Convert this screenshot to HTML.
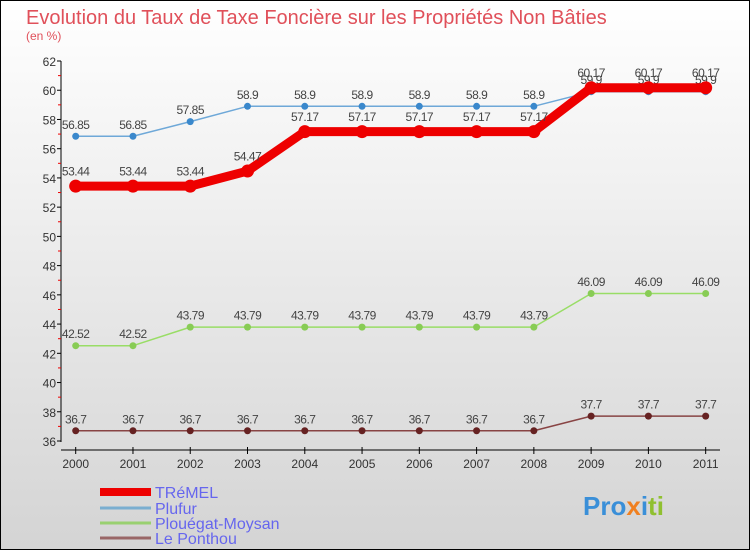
<!DOCTYPE html>
<html><head><meta charset="utf-8"><style>
body{margin:0;width:750px;height:550px;overflow:hidden;font-family:"Liberation Sans",sans-serif}
</style></head><body>
<svg width="750" height="550" xmlns="http://www.w3.org/2000/svg">
<defs><linearGradient id="bg" x1="0" y1="0" x2="0" y2="1"><stop offset="0" stop-color="#ffffff"/><stop offset="1" stop-color="#d4d4d4"/></linearGradient></defs>
<rect x="0.5" y="0.5" width="749" height="549" fill="url(#bg)" stroke="#000"/>
<text x="26" y="24" font-size="20" fill="#e0505a">Evolution du Taux de Taxe Foncière sur les Propriétés Non Bâties</text>
<text x="26" y="40" font-size="12" fill="#e0505a">(en %)</text>
<g id="axes"></g>
<g id="series"></g>
<g id="legend"></g>
<text x="583" y="515" font-size="26" font-weight="bold" fill="#3a8fd8">Pro<tspan fill="#f08020">x</tspan><tspan fill="#3a8fd8">i</tspan><tspan fill="#90c030">ti</tspan></text>
</svg>
<script>
const years=[2000,2001,2002,2003,2004,2005,2006,2007,2008,2009,2010,2011];
const tremel=[53.44,53.44,53.44,54.47,57.17,57.17,57.17,57.17,57.17,60.17,60.17,60.17];
const plufur=[56.85,56.85,57.85,58.9,58.9,58.9,58.9,58.9,58.9,59.9,59.9,59.9];
const plouegat=[42.52,42.52,43.79,43.79,43.79,43.79,43.79,43.79,43.79,46.09,46.09,46.09];
const ponthou=[36.7,36.7,36.7,36.7,36.7,36.7,36.7,36.7,36.7,37.7,37.7,37.7];
const yTicks=[36,38,40,42,44,46,48,50,52,54,56,58,60,62];
const NS="http://www.w3.org/2000/svg";
const X=i=>75.7+i*57.27;
const Y=v=>441-(v-36)*(380/26);
function mk(tag,attrs,parent,txt){const e=document.createElementNS(NS,tag);for(const k in attrs)e.setAttribute(k,attrs[k]);if(txt!==undefined)e.textContent=txt;parent.appendChild(e);return e;}
const ax=document.getElementById('axes');
const yl=mk('line',{x1:61,y1:61,x2:61,y2:442,stroke:'#000'},ax);


yTicks.forEach(t=>{
  mk('line',{x1:57,x2:61,y1:Y(t),y2:Y(t),stroke:'#000'},ax);
  if(t<62) mk('line',{x1:58,x2:61,y1:Y(t+1),y2:Y(t+1),stroke:'#e00'},ax);
  const tx=mk('text',{x:56,y:Y(t)+5,'font-size':12,fill:'#333','text-anchor':'end'},ax,t);
  
  
});
const xl=mk('line',{x1:61,y1:450,x2:720,y2:450,stroke:'#000'},ax);


years.forEach((yr,i)=>{
  mk('line',{x1:X(i),x2:X(i),y1:447,y2:454,stroke:'#000'},ax);
  const tx=mk('text',{x:X(i),y:468,'font-size':12,fill:'#333','text-anchor':'middle'},ax,yr);
  
  
});
const sg=document.getElementById('series');
const series=[
 {name:'plouegat',d:plouegat,c:'#99dd66',dot:'#88cc55',w:1.5,r:3.5},
 {name:'ponthou',d:ponthou,c:'#884444',dot:'#662222',w:1.5,r:3.5},
 {name:'plufur',d:plufur,c:'#6ea8d8',dot:'#3a88cc',w:1.5,r:3.5},
 {name:'tremel',d:tremel,c:'#ee0000',dot:'#ee0000',w:9,r:6.5}];
series.forEach(s=>{
  const g=mk('g',{},sg);
  
  
  mk('polyline',{points:s.d.map((v,i)=>X(i)+','+Y(v)).join(' '),fill:'none',stroke:s.c,'stroke-width':s.w,'stroke-linejoin':'round'},g);
  s.d.forEach((v,i)=>{
    const c=mk('circle',{cx:X(i),cy:Y(v),r:s.r,fill:s.dot},g);
    
    
    const t=mk('text',{x:X(i),y:Y(v)-(s.r+4),'font-size':12,fill:'#444','text-anchor':'middle','letter-spacing':'-0.5'},g,v);
    
    
  });
});
const lg=document.getElementById('legend');
[['TRéMEL','#ee0000',8,492],['Plufur','#7aaed0',3,508],['Plouégat-Moysan','#99d070',3,523],['Le Ponthou','#996666',3,538]].forEach(([n,c,w,y])=>{
  const g=mk('g',{},lg);
  
  
  mk('line',{x1:100,x2:151,y1:y,y2:y,stroke:c,'stroke-width':w},g);
  mk('text',{x:155,y:y+6,'font-size':16,fill:'#6666ee'},g,n);
});
</script>
</body></html>
